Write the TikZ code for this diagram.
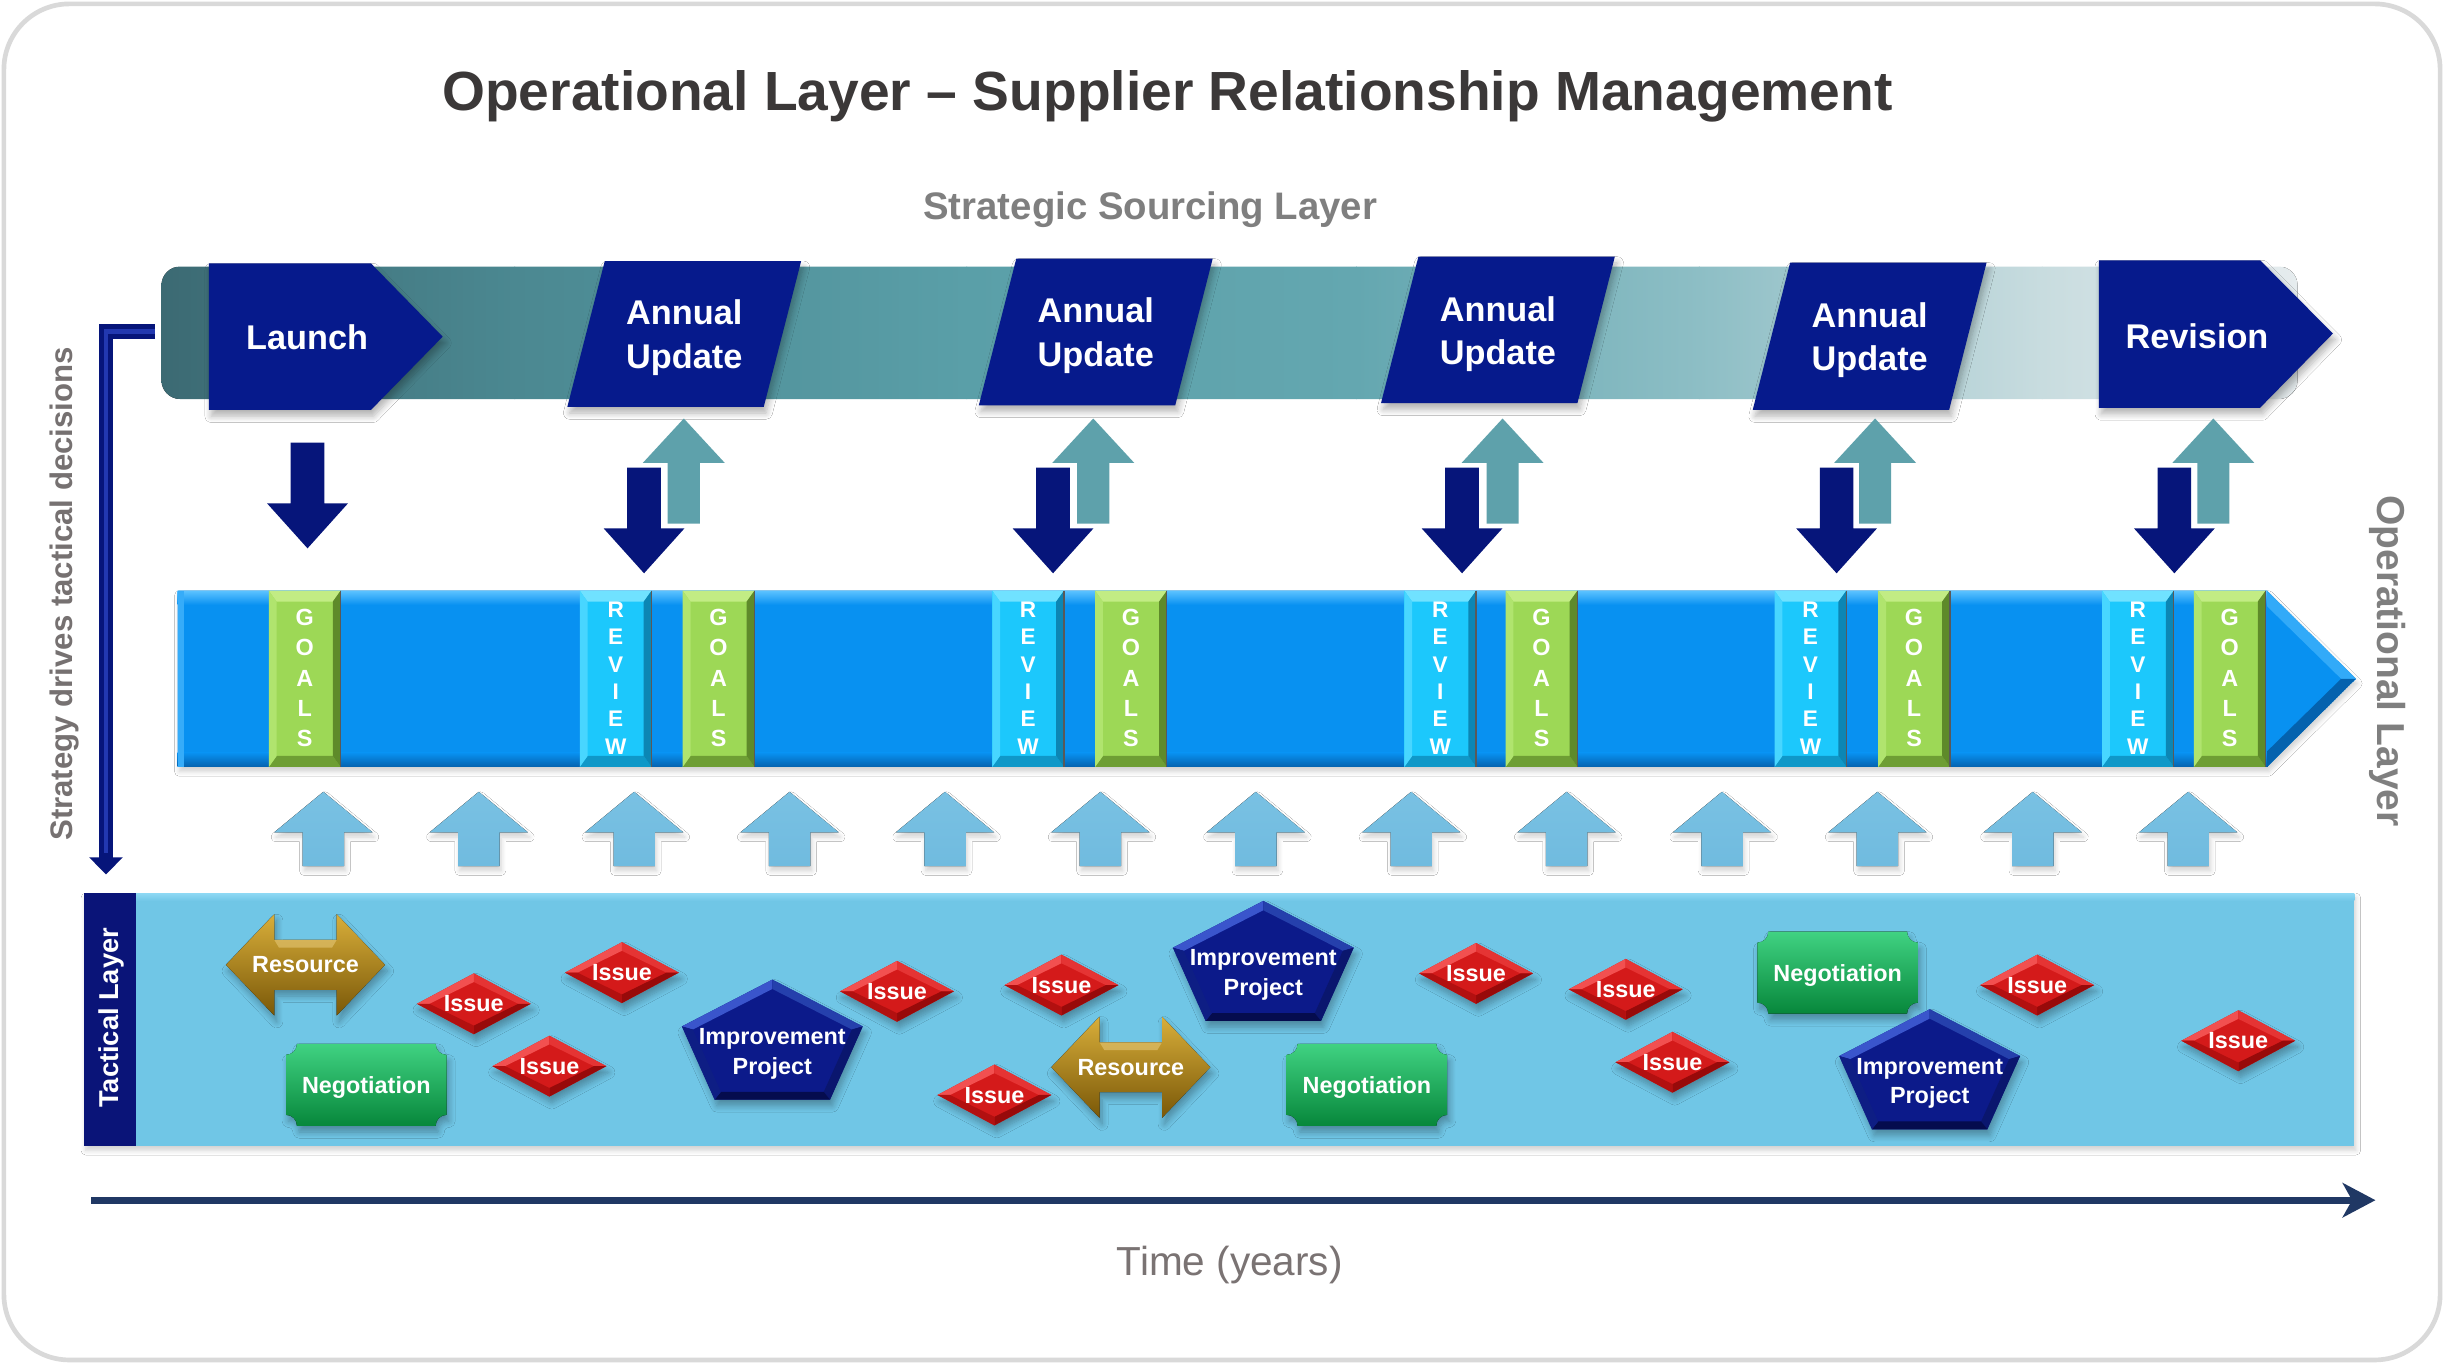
\documentclass[tikz,border=0pt]{standalone}
\usepackage{fontspec}
\setmainfont{Liberation Sans}
\usetikzlibrary{arrows.meta,shadows.blur,calc}
\definecolor{framegray}{HTML}{D9D9D9}
\definecolor{titlegray}{HTML}{3B3838}
\definecolor{subgray}{HTML}{7F7F7F}
\definecolor{sidegray}{HTML}{767171}
\definecolor{sboxblue}{HTML}{061A8C}
\definecolor{navyarrow}{HTML}{06157A}
\definecolor{tealarrow}{HTML}{5EA1AB}
\definecolor{ltarrow}{HTML}{79C1E3}
\definecolor{ltarrowb}{HTML}{70BBDF}
\definecolor{opbase}{HTML}{0891F1}
\definecolor{oplight}{HTML}{5CC2FF}
\definecolor{opdark}{HTML}{0462AE}
\definecolor{goalbase}{HTML}{9DD856}
\definecolor{goallight}{HTML}{C2EC84}
\definecolor{goaldark}{HTML}{6E9E34}
\definecolor{goalside}{HTML}{5E8A2A}
\definecolor{goallside}{HTML}{B0E46E}
\definecolor{revbase}{HTML}{1CC8FC}
\definecolor{revlight}{HTML}{70E2FF}
\definecolor{revdark}{HTML}{0F98C8}
\definecolor{revside}{HTML}{0C86B4}
\definecolor{revlside}{HTML}{48D6FF}
\definecolor{sb0}{HTML}{3C6A73}
\definecolor{sb1}{HTML}{4B8891}
\definecolor{sb2}{HTML}{5A9FA8}
\definecolor{sb3}{HTML}{64A7B0}
\definecolor{sb4}{HTML}{8DBEC5}
\definecolor{sb5}{HTML}{C8DCDF}
\definecolor{sb6}{HTML}{E6ECEE}
\definecolor{tacband}{HTML}{70C6E6}
\definecolor{tacedge}{HTML}{8ED9F5}
\definecolor{tacstrip}{HTML}{0A1478}
\definecolor{timeline}{HTML}{203864}
\definecolor{timegray}{HTML}{7A7373}
\definecolor{issbase}{HTML}{D41A1A}
\definecolor{issTL}{HTML}{F25050}
\definecolor{issTR}{HTML}{E53434}
\definecolor{issBR}{HTML}{980A0A}
\definecolor{issBL}{HTML}{B21010}
\definecolor{penbase}{HTML}{0C1A8A}
\definecolor{penTL}{HTML}{3A55CC}
\definecolor{penTR}{HTML}{2540AC}
\definecolor{penR}{HTML}{0A166E}
\definecolor{penB}{HTML}{050C4E}
\definecolor{penL}{HTML}{0E1E84}
\definecolor{negT}{HTML}{40D282}
\definecolor{negM}{HTML}{0BB856}
\definecolor{negB}{HTML}{07873B}
\definecolor{resT}{HTML}{D8AE3A}
\definecolor{resM}{HTML}{B4870D}
\definecolor{resB}{HTML}{7A5808}
\definecolor{lbarhi}{HTML}{2238B0}

\tikzset{
  softshadow/.style={blur shadow={shadow xshift=1.5pt, shadow yshift=-4pt, shadow opacity=30, shadow blur steps=8, shadow blur radius=4pt}},
  faintshadow/.style={blur shadow={shadow xshift=1pt, shadow yshift=-3pt, shadow opacity=18, shadow blur steps=6, shadow blur radius=3pt}},
  lbl/.style={text=white, font=\bfseries\fontsize{15}{19}\selectfont, align=center, inner sep=0pt},
  lblone/.style={lbl, text depth=0pt},
  boxlbl/.style={text=white, font=\bfseries\fontsize{22}{27.8}\selectfont, align=center, inner sep=0pt},
  goaltxt/.style={text=white, font=\bfseries\fontsize{15}{19.3}\selectfont, align=center, inner sep=0pt},
  revtxt/.style={text=white, font=\bfseries\fontsize{14.5}{17.6}\selectfont, align=center, inner sep=0pt},
  sbox/.style={fill=sboxblue},
}

% strip with bevel: name, x0, colour prefix, letters
\newcommand{\mkstrip}[4]{%
  \fill[#3base] (#2,379) rectangle (#2+46,492);
  \fill[#3light] (#2,379) -- (#2+46,379) -- (#2+41,386) -- (#2+5,386) -- cycle;
  \fill[#3dark] (#2,492) -- (#2+46,492) -- (#2+41,485) -- (#2+5,485) -- cycle;
  \fill[#3side] (#2+46,379) -- (#2+41,386) -- (#2+41,485) -- (#2+46,492) -- cycle;
  \fill[#3lside] (#2,379) -- (#2+5,386) -- (#2+5,485) -- (#2,492) -- cycle;
  \draw[black!65, line width=0.8] (#2+46,379) -- (#2+46,492);
  \node[#3txt] (#1) at (#2+23,435) {#4};
}
% navy down arrow: x, y of shaft top
\newcommand{\mkdown}[2]{%
  \fill[navyarrow] (#1-10.8,#2) -- (#1+10.8,#2) -- (#1+10.8,#2+39) -- (#1+25.9,#2+39) -- (#1,#2+67.8) -- (#1-25.9,#2+39) -- (#1-10.8,#2+39) -- cycle;
}
% teal up arrow: x, y of tip
\newcommand{\mkup}[2]{%
  \fill[tealarrow] (#1,#2) -- (#1+26.3,#2+28.5) -- (#1+10.3,#2+28.5) -- (#1+10.3,#2+67.5) -- (#1-10.3,#2+67.5) -- (#1-10.3,#2+28.5) -- (#1-26.3,#2+28.5) -- cycle;
}
% light up arrow: x
\newcommand{\mkltup}[1]{%
  \fill[top color=ltarrow, bottom color=ltarrowb, faintshadow] (#1,508) -- (#1+31.5,534) -- (#1+13.3,534) -- (#1+13.3,555.7) -- (#1-13.3,555.7) -- (#1-13.3,534) -- (#1-31.5,534) -- cycle;
}
% annual update box: name, bottom-left x, top y, bottom y, text centre y
\newcommand{\mkannual}[5]{%
  \fill[sbox, softshadow] (#2,#4) -- (#2+24,#3) -- (#2+150,#3) -- (#2+126,#4) -- cycle;
  \node[boxlbl] (#1) at (#2+75,#5) {Annual\\Update};
}
% issue diamond: name, x, y
\newcommand{\mkissue}[3]{%
  \fill[issbase, softshadow] (#2-36.5,#3) -- (#2,#3-19.5) -- (#2+36.5,#3) -- (#2,#3+19.5) -- cycle;
  \fill[issTL] (#2-36.5,#3) -- (#2,#3-19.5) -- (#2,#3-14) -- (#2-28.5,#3) -- cycle;
  \fill[issTR] (#2,#3-19.5) -- (#2+36.5,#3) -- (#2+28.5,#3) -- (#2,#3-14) -- cycle;
  \fill[issBR] (#2+36.5,#3) -- (#2,#3+19.5) -- (#2,#3+14) -- (#2+28.5,#3) -- cycle;
  \fill[issBL] (#2,#3+19.5) -- (#2-36.5,#3) -- (#2-28.5,#3) -- (#2,#3+14) -- cycle;
  \node[lblone] (#1) at (#2,#3) {Issue};
}
% improvement project pentagon: name, centre x, top y
\newcommand{\mkpent}[3]{%
  \fill[penbase, softshadow] (#2,#3) -- (#2+58,#3+30) -- (#2+37,#3+77) -- (#2-37,#3+77) -- (#2-58,#3+30) -- cycle;
  \fill[penTL] (#2-58,#3+30) -- (#2,#3) -- (#2,#3+6) -- (#2-51,#3+32) -- cycle;
  \fill[penTR] (#2,#3) -- (#2+58,#3+30) -- (#2+51,#3+32) -- (#2,#3+6) -- cycle;
  \fill[penR] (#2+58,#3+30) -- (#2+37,#3+77) -- (#2+33,#3+72) -- (#2+51,#3+32) -- cycle;
  \fill[penB] (#2+37,#3+77) -- (#2-37,#3+77) -- (#2-33,#3+72) -- (#2+33,#3+72) -- cycle;
  \fill[penL] (#2-37,#3+77) -- (#2-58,#3+30) -- (#2-51,#3+32) -- (#2-33,#3+72) -- cycle;
  \node[lbl] (#1) at (#2,#3+47.5) {Improvement\\Project};
}
% negotiation plaque: name, centre x, centre y
\newcommand{\mkneg}[3]{%
  \fill[top color=negT, middle color=negM, bottom color=negB, softshadow]
    (#2-44.5,#3-26.25) -- (#2+44.5,#3-26.25) arc[start angle=180, end angle=90, radius=7]
    -- (#2+51.5,#3+19.25) arc[start angle=270, end angle=180, radius=7]
    -- (#2-44.5,#3+26.25) arc[start angle=360, end angle=270, radius=7]
    -- (#2-51.5,#3-19.25) arc[start angle=90, end angle=0, radius=7] -- cycle;
  \node[lblone] (#1) at (#2,#3) {Negotiation};
}
% resource double arrow: name, centre x, centre y
\newcommand{\mkres}[3]{%
  \fill[top color=resT, middle color=resM, bottom color=resB, softshadow]
    (#2-51,#3) -- (#2-20,#3-32.5) -- (#2-20,#3-16) -- (#2+20,#3-16) -- (#2+20,#3-32.5)
    -- (#2+51,#3) -- (#2+20,#3+32.5) -- (#2+20,#3+16) -- (#2-20,#3+16) -- (#2-20,#3+32.5) -- cycle;
  \fill[resT!70!white, opacity=0.6] (#2-20,#3-16) -- (#2+20,#3-16) -- (#2+17,#3-11) -- (#2-17,#3-11) -- cycle;
  \node[lblone] (#1) at (#2,#3) {Resource};
}

\begin{document}
\begin{tikzpicture}[x=1pt,y=-1pt]
\useasboundingbox (0,0) rectangle (1568,875);
\fill[white] (0,0) rectangle (1568,875);
\draw[framegray, line width=3] (2.5,2.5) [rounded corners=42] rectangle (1565.5,872.5);

% titles
\node[anchor=base, text=titlegray, font=\bfseries\fontsize{35.4}{42}\selectfont] (title) at (749,70.6) {Operational Layer – Supplier Relationship Management};
\node[anchor=base, text=subgray, font=\bfseries\fontsize{24.6}{29}\selectfont] (strat) at (738,140.7) {Strategic Sourcing Layer};

% strategic band
\begin{scope}
  \clip[rounded corners=12] (103.6,171) rectangle (1474,256);
  \fill[left color=sb0, right color=sb1] (103,171) rectangle (330.5,256);
  \fill[left color=sb1, right color=sb2] (330,171) rectangle (620.5,256);
  \fill[left color=sb2, right color=sb3] (620,171) rectangle (870.5,256);
  \fill[left color=sb3, right color=sb4] (870,171) rectangle (1090.5,256);
  \fill[left color=sb4, right color=sb5] (1090,171) rectangle (1310.5,256);
  \fill[left color=sb5, right color=sb6] (1310,171) rectangle (1475,256);
\end{scope}

% strategic boxes
\fill[sbox, softshadow] (134,169) -- (238,169) -- (284,216) -- (238,263) -- (134,263) -- cycle;
\node[boxlbl, anchor=base] (launch) at (197,224.5) {Launch};
\mkannual{au1}{364}{167.5}{261}{216.7}
\mkannual{au2}{628}{166}{260}{215.4}
\mkannual{au3}{886}{164.7}{258.7}{214.3}
\mkannual{au4}{1124.5}{168.5}{263}{218.2}
\fill[sbox, softshadow] (1346.6,167) -- (1450,167) -- (1496.7,214) -- (1450,261.6) -- (1346.6,261.6) -- cycle;
\node[boxlbl, anchor=base] (revision) at (1409.5,223.5) {Revision};

% strategic <-> operational arrows
\mkdown{197.3}{284}
\mkup{438.7}{268.5}\mkdown{413.2}{300}
\mkup{701.4}{268.5}\mkdown{675.6}{300}
\mkup{964}{268.5}\mkdown{938}{300}
\mkup{1203}{268.5}\mkdown{1178.3}{300}
\mkup{1420}{268.5}\mkdown{1395}{300}

% operational band
\fill[opbase, faintshadow] (114,379) -- (1454.5,379) -- (1511.5,435.5) -- (1454.5,492) -- (114,492) -- cycle;
\begin{scope}
  \clip (114,379) -- (1454.5,379) -- (1511.5,435.5) -- (1454.5,492) -- (114,492) -- cycle;
  \fill[top color=oplight, bottom color=opbase] (114,379) rectangle (1455,388);
  \fill[top color=opbase, bottom color=opdark] (114,483) rectangle (1455,492);
  \fill[oplight!55!opbase] (114,379) rectangle (118,492);
  \fill[oplight!50!opbase] (1454.5,379) -- (1511.5,435.5) -- (1502,435.5) -- (1454.5,389) -- cycle;
  \fill[opdark] (1454.5,492) -- (1511.5,435.5) -- (1502,435.5) -- (1454.5,482) -- cycle;
\end{scope}
\mkstrip{g1}{172.5}{goal}{G\\O\\A\\L\\S}
\mkstrip{r1}{372}{rev}{R\\E\\V\\I\\E\\W}
\mkstrip{g2}{438}{goal}{G\\O\\A\\L\\S}
\mkstrip{r2}{636.6}{rev}{R\\E\\V\\I\\E\\W}
\mkstrip{g3}{702.6}{goal}{G\\O\\A\\L\\S}
\mkstrip{r3}{901}{rev}{R\\E\\V\\I\\E\\W}
\mkstrip{g4}{966}{goal}{G\\O\\A\\L\\S}
\mkstrip{r4}{1138.5}{rev}{R\\E\\V\\I\\E\\W}
\mkstrip{g5}{1205}{goal}{G\\O\\A\\L\\S}
\mkstrip{r5}{1348.6}{rev}{R\\E\\V\\I\\E\\W}
\mkstrip{g6}{1407.5}{goal}{G\\O\\A\\L\\S}

\node[rotate=-90, text=subgray, font=\bfseries\fontsize{25}{30}\selectfont] (oplayer) at (1532,424) {Operational Layer};

% light up arrows
\foreach \i in {0,...,12} { \mkltup{207.5+99.7*\i} }

% left strategy arrow
\coordinate (lstart) at (99.5,212.8);
\coordinate (lcorner) at (68,212.8);
\coordinate (lend) at (68,561);
\coordinate (lendhi) at (68,547);
\draw[navyarrow, line width=9.6, -{Triangle[length=11pt,width=21pt]}] (lstart) -- (lcorner) -- (lend);
\draw[lbarhi, line width=3] (lstart) -- (lcorner) -- (lendhi);
\node[rotate=90, anchor=base, text=sidegray, font=\bfseries\fontsize{20}{24}\selectfont] (stratlbl) at (46.5,381) {Strategy drives tactical decisions};

% tactical band
\fill[tacband, faintshadow] (54,573) rectangle (1510.5,735);
\fill[top color=tacedge, bottom color=tacband] (54,573) rectangle (1510.5,578);
\fill[tacstrip] (54,573) rectangle (87.5,735);
\node[rotate=90, text=white, font=\bfseries\fontsize{17.5}{21}\selectfont] (taclbl) at (71.5,653) {Tactical Layer};

% tactical elements
\mkres{res1}{196}{619}
\mkres{res2}{725.5}{684.7}
\mkneg{neg1}{235}{696}
\mkneg{neg2}{877}{696}
\mkneg{neg3}{1179}{624}
\mkpent{imp1}{495.5}{628.5}
\mkpent{imp2}{810.5}{578}
\mkpent{imp3}{1238}{647.5}
\mkissue{is1}{304}{644}
\mkissue{is2}{399}{624}
\mkissue{is3}{352.5}{684}
\mkissue{is4}{575.5}{636}
\mkissue{is5}{681}{632}
\mkissue{is6}{638}{702.5}
\mkissue{is7}{947}{624.5}
\mkissue{is8}{1043}{634.7}
\mkissue{is9}{1073}{681.5}
\mkissue{is10}{1307}{632}
\mkissue{is11}{1436}{667.7}

% time axis
\coordinate (tstart) at (58.6,770);
\coordinate (tend) at (1524,770);
\draw[timeline, line width=4.5, -{Stealth[length=21pt, width=22pt, inset=6pt]}] (tstart) -- (tend);
\node[anchor=base, text=timegray, font=\fontsize{26}{31}\selectfont] (timelbl) at (789,818) {Time (years)};
\end{tikzpicture}
\end{document}
